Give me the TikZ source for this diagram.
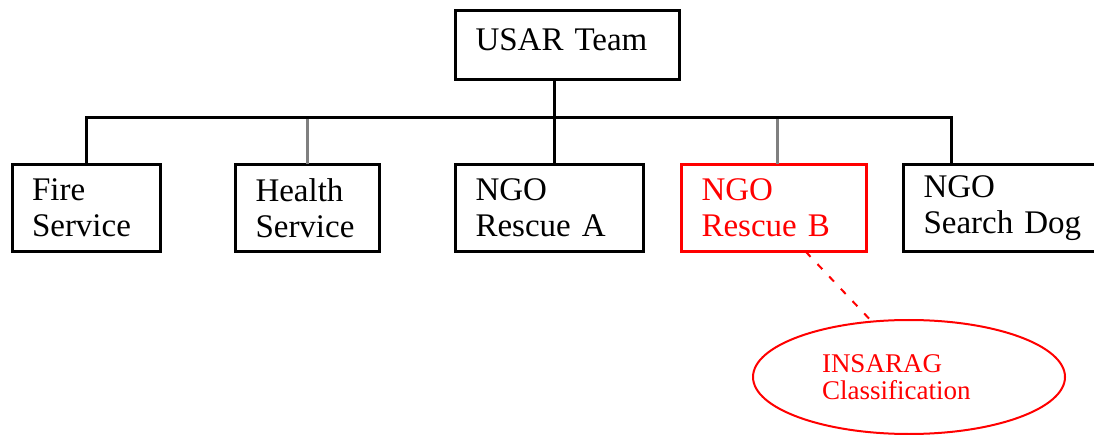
\documentclass[tikz,border=0pt]{standalone}
\usepackage{fontspec}
\setmainfont{Liberation Serif}
\usetikzlibrary{positioning,shapes.geometric}
\definecolor{markred}{RGB}{255,0,0}
\definecolor{linkgray}{RGB}{128,128,128}

\begin{document}
\begin{tikzpicture}[x=1pt, y=-1pt,
    unitnode/.style={rectangle, draw=black, line width=3pt, outer sep=0pt, inner xsep=20pt, inner ysep=0pt, minimum height=87.5pt, align=left, font=\fontsize{33}{36}\selectfont},
    marknode/.style={unitnode, draw=markred, text=markred},
    classnode/.style={ellipse, draw=markred, text=markred, line width=2pt, inner sep=0pt, minimum width=312pt, minimum height=114pt, text width=174pt, align=left, font=\fontsize{27}{27}\selectfont},
    link/.style={-, line width=3pt},
    graylink/.style={-, line width=3pt, draw=linkgray},
    marklink/.style={-, line width=2pt, draw=markred, dash pattern=on 7pt off 10pt},
    ]
      \useasboundingbox (0,0) rectangle (1094,435);

      %Nodes
      \node      (usar)     [unitnode, minimum width=224pt, text width=184pt, minimum height=69pt, text depth=11pt] at (567.5,45.5) {USAR Team};
      \node      (fire)     [unitnode, minimum width=148pt, text width=108pt] at (86,208) {Fire\\Service};
      \node      (health)   [unitnode, minimum width=144pt, text width=104pt, right=75.5pt of fire] {Health\\Service};
      \node      (rescueA)  [unitnode, minimum width=187.5pt, text width=147.5pt, right=76pt of health] {NGO\\Rescue A};
      \node      (rescueB)  [marknode, minimum width=185pt, text width=145pt, right=38.5pt of rescueA] {NGO\\Rescue B};
      \node      (dog)      [unitnode, minimum width=200pt, text width=160pt, right=37pt of rescueB] {NGO\\Search Dog};

      \node      (insarag)  [classnode] at (909,377) {INSARAG\\Classification};

      \coordinate (hub) at (554,118);

      %Lines
      \draw[graylink] (health.north) -- (health.north |- hub);
      \draw[graylink] ([xshift=3pt]rescueB.north) -- ([xshift=3pt]rescueB.north |- hub);
      \draw[link] (fire.north) |- (hub) -| ([xshift=47.5pt]dog.north west);
      \draw[link] (usar.south -| hub) -- (hub |- rescueA.north);

      \draw[marklink] (rescueB.-54) -- (insarag.124);
    \end{tikzpicture}
\end{document}
